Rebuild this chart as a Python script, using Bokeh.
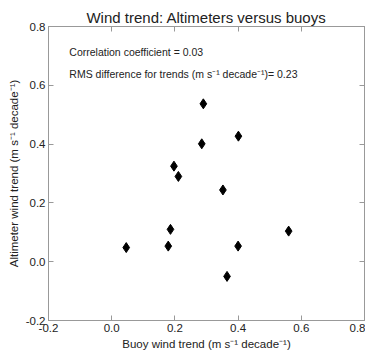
from bokeh.plotting import figure
from bokeh.models import LinearAxis, Label, NumeralTickFormatter, FixedTicker, Range1d
from bokeh.embed import file_html
from bokeh.resources import INLINE

buoy = [0.046, 0.179, 0.186, 0.197, 0.211, 0.285, 0.290, 0.352, 0.365, 0.400, 0.401, 0.560]
alti = [0.048, 0.053, 0.110, 0.325, 0.290, 0.401, 0.537, 0.244, -0.050, 0.053, 0.427, 0.104]
ticks = [-0.2, 0.0, 0.2, 0.4, 0.6, 0.8]
title = "Wind trend: Altimeters versus buoys"
xlabel = "Buoy wind trend (m s\u207b\u00b9 decade\u207b\u00b9)"
ylabel = "Altimeter wind trend (m s\u207b\u00b9 decade\u207b\u00b9)"
notes = ["Correlation coefficient = 0.03",
         "RMS difference for trends (m s\u207b\u00b9 decade\u207b\u00b9)= 0.23"]
note_y = [0.712, 0.637]

FONT = "Liberation Sans"
TXT = "#222222"
GREY = "#999999"

p = figure(frame_width=316, frame_height=294, output_backend="svg", toolbar_location=None,
           x_range=Range1d(-0.2, 0.8), y_range=Range1d(-0.2, 0.8),
           min_border_left=48, min_border_right=1, min_border_top=26, min_border_bottom=28)
p.title.text = title
p.title.align = "center"
p.title.text_font = FONT
p.title.text_font_size = "15px"
p.title.text_font_style = "normal"
p.title.text_color = TXT
p.title.standoff = 2
p.title.offset = 0
p.grid.visible = False
p.outline_line_color = GREY

for ax in (p.xaxis[0], p.yaxis[0]):
    ax.ticker = FixedTicker(ticks=ticks)
    ax.formatter = NumeralTickFormatter(format="0.0")
    ax.major_tick_in = 5
    ax.major_tick_out = 0
    ax.minor_tick_line_color = None
    ax.axis_line_color = GREY
    ax.major_tick_line_color = GREY
    ax.major_label_text_font = FONT
    ax.major_label_text_font_size = "11.5px"
    ax.major_label_text_color = TXT
    ax.axis_label_text_font = FONT
    ax.axis_label_text_font_size = "11.5px"
    ax.axis_label_text_font_style = "normal"
    ax.axis_label_text_color = TXT
    ax.major_label_standoff = 3
    ax.axis_label_standoff = 3

p.xaxis[0].axis_label = xlabel
p.yaxis[0].axis_label = ylabel

for loc in ("above", "right"):
    ax = LinearAxis(ticker=FixedTicker(ticks=ticks), major_tick_in=5, major_tick_out=0,
                    minor_tick_line_color=None, axis_line_color=GREY, major_tick_line_color=GREY,
                    major_label_text_color=None, major_label_text_font_size="1px",
                    major_label_standoff=0)
    p.add_layout(ax, loc)

p.scatter(buoy, alti, marker="diamond", size=10, color="black")

for t, yy in zip(notes, note_y):
    p.add_layout(Label(x=-0.134, y=yy, text=t, text_font=FONT, text_font_size="10.5px",
                       text_color=TXT, text_baseline="middle"))

open("out.html", "w").write(file_html(p, INLINE))
